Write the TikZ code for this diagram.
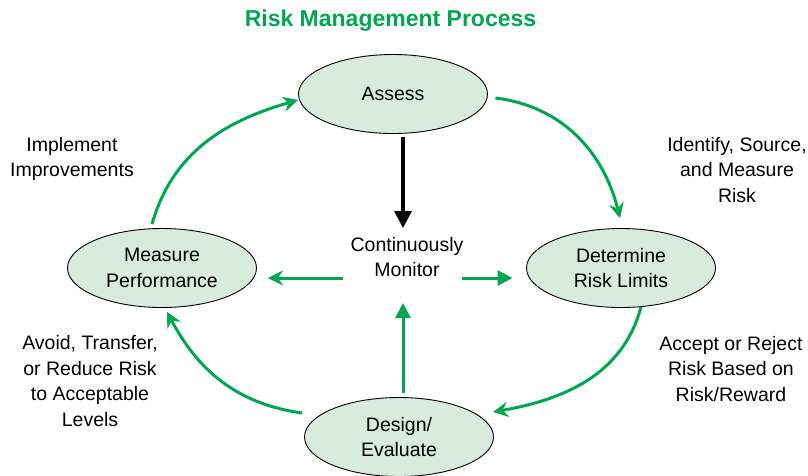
\documentclass[tikz,border=0pt]{standalone}
\usepackage{fontspec}
\setmainfont{Liberation Sans}
\usetikzlibrary{positioning, shapes.geometric, arrows.meta}

\definecolor{riskgreen}{RGB}{0,166,81}
\definecolor{stagefill}{RGB}{216,235,221}

\tikzset{
  stage/.style={ellipse, draw, fill=stagefill, line width=0.9pt,
    minimum width=189pt, minimum height=79pt, inner sep=0pt,
    align=center, font=\fontsize{19.5}{25.5}\selectfont},
  note/.style={align=center, inner sep=0pt,
    font=\fontsize{19.5}{25.5}\selectfont},
  cycle/.style={riskgreen, line width=3pt,
    -{Stealth[length=15pt,width=15pt,inset=5pt]}},
  feed/.style={riskgreen, line width=3pt,
    -{Triangle[length=15pt,width=15pt]}}
}

\begin{document}
\begin{tikzpicture}[x=1pt, y=1pt]
  \useasboundingbox (0,0) rectangle (808,-475);

  \node[note] (mon) at (407,-257) {Continuously\\Monitor};
  \node[
  font=\fontsize{23}{28}\selectfont\bfseries,
  text=riskgreen] (title) at ([shift={(-16.5,236)}]mon.center) {Risk Management Process};

  % the four stages round the loop
  \node[stage] (as) at ([shift={(-14,163)}]mon.center) {Assess};
  \node[stage] (det) at ([shift={(214,-11)}]mon.center) {Determine\\Risk Limits};
  \node[stage] (des) at ([shift={(-8,-180)}]mon.center) {Design/\\Evaluate};
  \node[stage] (meas) at ([shift={(-245,-11)}]mon.center) {Measure\\Performance};

  \node[note] (impl) at ([shift={(-335,98)}]mon.center) {Implement\\Improvements};
  \node[note] (idf) at ([shift={(330,87)}]mon.center) {Identify, Source,\\and Measure\\Risk};
  \node[note] (acc) at ([shift={(324,-112)}]mon.center) {Accept or Reject\\Risk Based on\\Risk/Reward};
  \node[note] (avd) at ([shift={(-317,-124)}]mon.center) {Avoid, Transfer,\\or Reduce Risk\\to Acceptable\\Levels};

  \draw[line width=3.5pt, -{Triangle[length=17pt,width=17pt]}] ([shift={(10,-3.5)}]as.south) -- ([shift={(-4,29)}]mon.center);
  \draw[feed] ([shift={(55,-21)}]mon.center) -- ([shift={(-13.5,-10)}]det.west);
  \draw[cycle] ([shift={(-64,-21)}]mon.center) -- ([shift={(11,-10)}]meas.east);
  \draw[feed] ([shift={(4,4)}]des.north) -- ([shift={(-4,-46)}]mon.center);

  \draw[cycle] ([shift={(7.5,-4)}]as.east) to[out=-7, in=104] ([shift={(-1,10)}]det.north);
  \draw[cycle] ([shift={(20,1)}]det.south) to[out=-105, in=10] ([shift={(-1,25)}]des.east);
  \draw[cycle] ([shift={(-2,24)}]des.west) to[out=172, in=-62] ([shift={(5,-4)}]meas.south);
  \draw[cycle] ([shift={(-10,4)}]meas.north) to[out=74, in=196] ([shift={(0,-6)}]as.west);
\end{tikzpicture}
\end{document}
